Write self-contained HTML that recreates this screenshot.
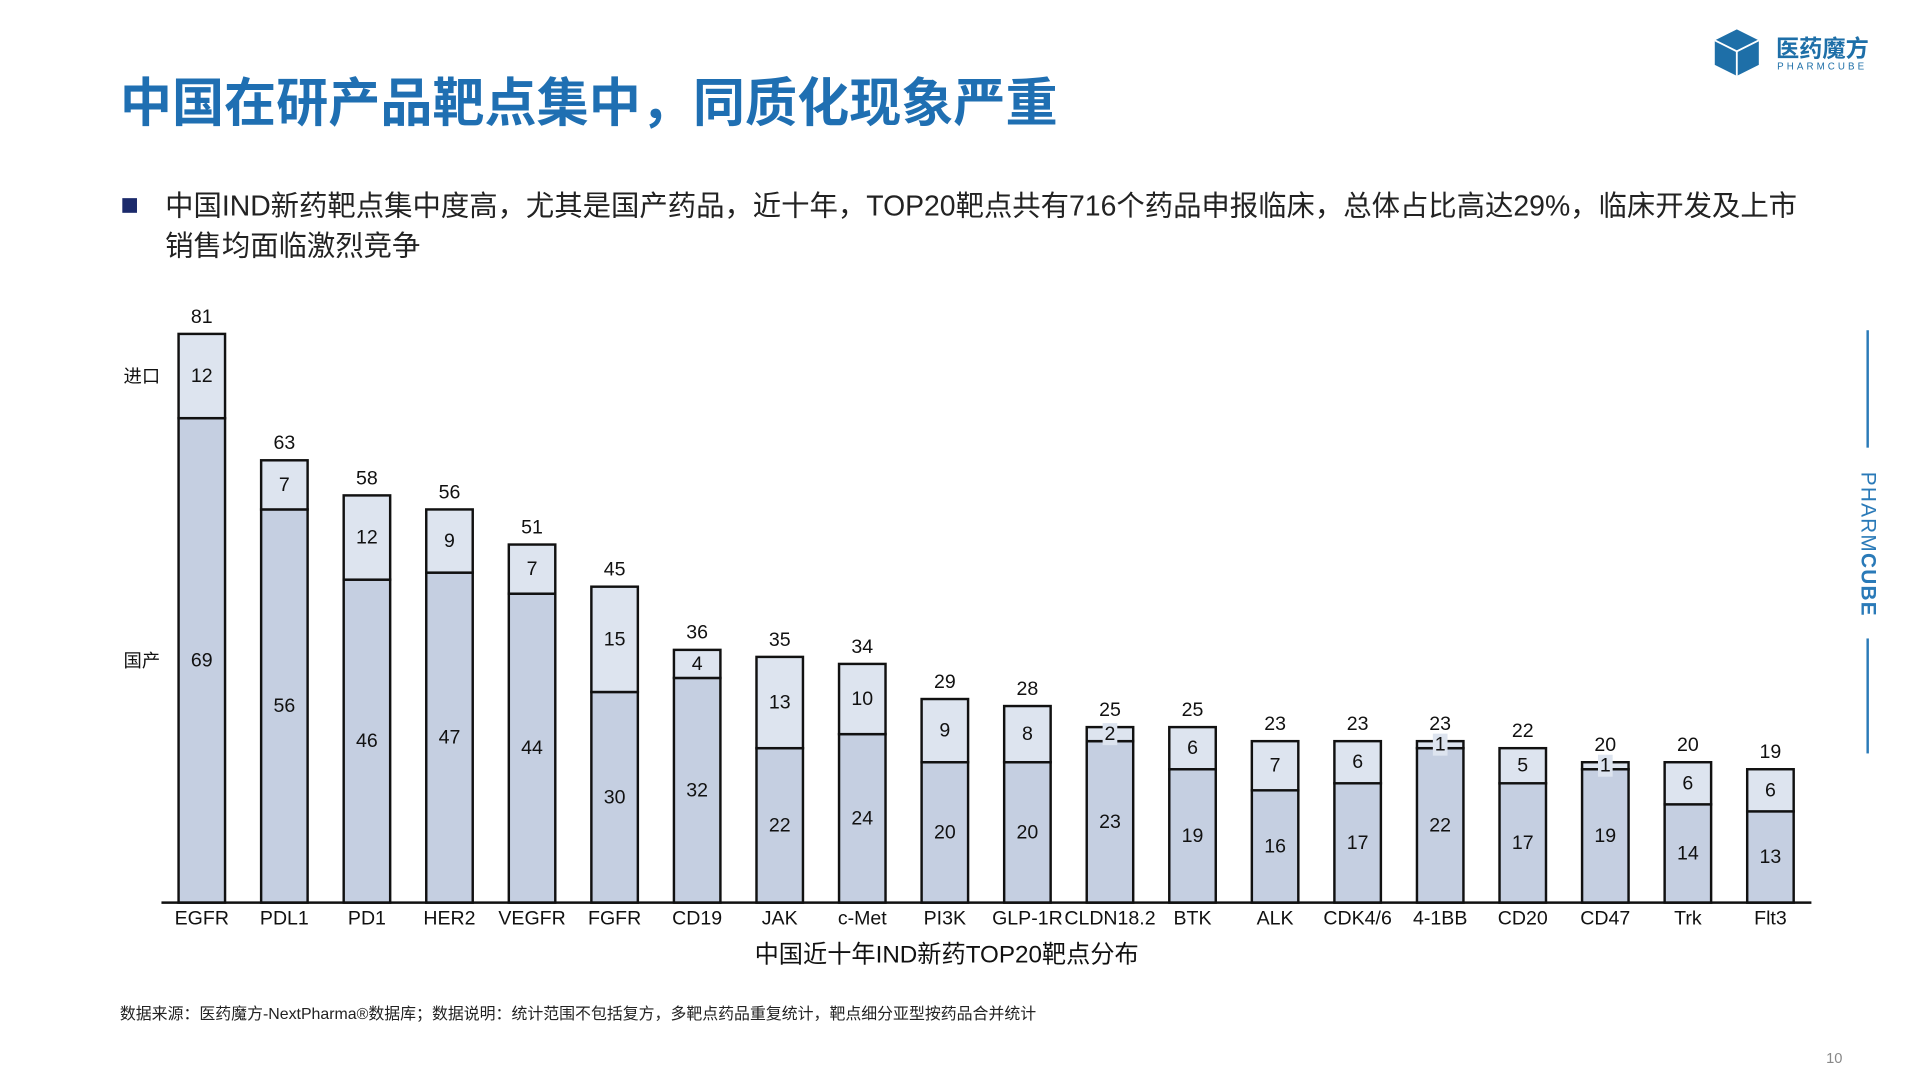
<!DOCTYPE html>
<html><head><meta charset="utf-8">
<style>
html,body{margin:0;padding:0;background:#fff;}
body{width:1920px;height:1080px;overflow:hidden;position:relative;font-family:"Liberation Sans","Noto Sans CJK SC",sans-serif;}
#wrap{position:absolute;left:0;top:0;width:1570px;height:883px;transform-origin:0 0;transform:scale(1.2231,1.2231);}
.abs{position:absolute;white-space:nowrap;}
</style></head>
<body>
<div id="wrap">
  <div class="abs" style="left:98px;top:51px;font-size:42.6px;font-weight:bold;color:#1f6fb2;">中国在研产品靶点集中，同质化现象严重</div>

  <div class="abs" style="left:1400px;top:22px;width:135px;height:42px;">
    <svg width="40" height="42" viewBox="0 0 40 42" style="position:absolute;left:0;top:0">
      <polygon points="20,2 38,11 38,31 20,40 2,31 2,11" fill="#1e6fa8"/>
      <polyline points="2,11 20,20 38,11" fill="none" stroke="#fff" stroke-width="1.5"/>
      <line x1="20" y1="20" x2="20" y2="40" stroke="#fff" stroke-width="1.5"/>
    </svg>
    <div class="abs" style="left:52px;top:3px;font-size:19px;font-weight:bold;color:#1e6fa8;">医药魔方</div>
    <div class="abs" style="left:53px;top:28px;font-size:8px;letter-spacing:2.5px;color:#1e6fa8;">PHARMCUBE</div>
  </div>

  <div class="abs" style="left:100px;top:162px;width:12px;height:12px;background:#1b2a6b;"></div>
  <div class="abs" style="left:135px;top:152px;font-size:23.2px;line-height:33px;color:#222;">中国IND新药靶点集中度高，尤其是国产药品，近十年，TOP20靶点共有716个药品申报临床，总体占比高达29%，临床开发及上市<br>销售均面临激烈竞争</div>

  <div class="abs" style="left:1526px;top:270px;width:2px;height:96px;background:#2a7ab8;"></div>
  <div class="abs" style="left:1526px;top:522px;width:2px;height:94px;background:#2a7ab8;"></div>
  <div class="abs" style="left:1527px;top:445px;transform:translate(-50%,-50%) rotate(90deg);font-size:17px;color:#2a7ab8;letter-spacing:1px;">PHARM<b>CUBE</b></div>

  <svg id="chart" width="1570" height="883" style="position:absolute;left:0;top:0"></svg>

  <div class="abs" style="left:98px;top:818px;font-size:13px;color:#222;">数据来源：医药魔方-NextPharma®数据库；数据说明：统计范围不包括复方，多靶点药品重复统计，靶点细分亚型按药品合并统计</div>
  <div class="abs" style="left:1493px;top:858px;font-size:12px;color:#888;">10</div>
</div>
<script>
const categories=["EGFR","PDL1","PD1","HER2","VEGFR","FGFR","CD19","JAK","c-Met","PI3K","GLP-1R","CLDN18.2","BTK","ALK","CDK4/6","4-1BB","CD20","CD47","Trk","Flt3"];
const domestic=[69,56,46,47,44,30,32,22,24,20,20,23,19,16,17,22,17,19,14,13];
const imported=[12,7,12,9,7,15,4,13,10,9,8,2,6,7,6,1,5,1,6,6];
const seriesNames=["国产","进口"];
const axisTitle="中国近十年IND新药TOP20靶点分布";

const NS="http://www.w3.org/2000/svg";
const svg=document.getElementById('chart');
const x0=132,x1=1481,baseY=738,pxPerUnit=465/81,barW=38;
function xc(i){return 165+i*67.5;}
function y(v){return baseY-v*pxPerUnit;}
function mk(tag,attrs){const e=document.createElementNS(NS,tag);for(const k in attrs)e.setAttribute(k,attrs[k]);svg.appendChild(e);return e;}
function txt(x,yy,s,size,extra){const t=mk('text',Object.assign({x:x,y:yy,'text-anchor':'middle','dominant-baseline':'central','font-size':size,fill:'#111','font-family':'"Liberation Sans","Noto Sans CJK SC",sans-serif'},extra||{}));t.textContent=s;return t;}

categories.forEach((c,i)=>{
  const cx=xc(i),d=domestic[i],m=imported[i],tot=d+m;
  const r1=mk('rect',{x:cx-barW/2,y:y(d),width:barW,height:d*pxPerUnit,fill:'#c5cfe1',stroke:'#111','stroke-width':2});
  
  
  const r2=mk('rect',{x:cx-barW/2,y:y(tot),width:barW,height:m*pxPerUnit,fill:'#dde4ef',stroke:'#111','stroke-width':2});
  
  
  const t1=txt(cx,(y(0)+y(d))/2,String(d),16);
  
  
  const my=(y(d)+y(tot))/2;
  if(m*pxPerUnit<16){
    const bg=mk('rect',{x:cx-6,y:my-9,width:12,height:18,fill:'#dde4ef'});
    
    
  }
  const t2=txt(cx,my,String(m),16);
  
  
  const t3=txt(cx,y(tot)-14,String(tot),16);
  
  
  const t4=txt(cx,751,c,16);
  
  
});
const ax=mk('line',{x1:x0,y1:baseY,x2:x1,y2:baseY,stroke:'#111','stroke-width':2});


const at=txt(774,781,axisTitle,19.8);


const l1=txt(116,(y(domestic[0])+y(domestic[0]+imported[0]))/2,seriesNames[1],15);


const l2=txt(116,y(domestic[0]/2),seriesNames[0],15);


</script>
</body></html>
